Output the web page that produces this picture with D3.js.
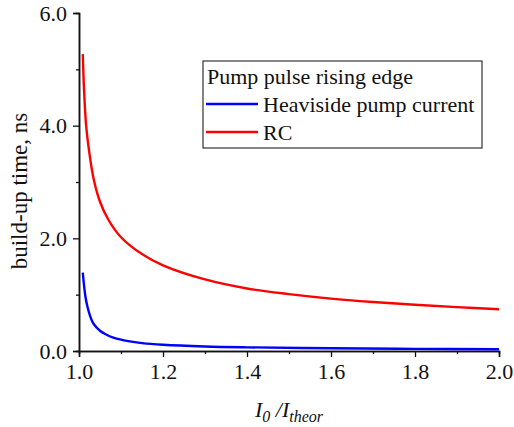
<!DOCTYPE html>
<html>
<head>
<meta charset="utf-8">
<script src="https://cdn.jsdelivr.net/npm/d3@7"></script>
<style>
  body { margin: 0; background: #fff; }
</style>
</head>
<body>
<div id="chart"></div>
<script>
/**
 * CONSTANTS AND GLOBALS
 * */
const width = 514,
  height = 427,
  margin = { top: 13, bottom: 76, left: 79, right: 15 };
const serif = '"Liberation Serif"';

// values
const rcX = [1.009, 1.012, 1.017, 1.025, 1.035, 1.05, 1.07, 1.1, 1.15, 1.2, 1.3, 1.4, 1.5, 1.6, 1.7, 1.8, 1.9, 2.0];
const rcY = [5.27, 4.64, 4.0, 3.5, 3.05, 2.65, 2.33, 2.02, 1.72, 1.52, 1.27, 1.11, 1.01, 0.93, 0.87, 0.82, 0.778, 0.74];
const heavX = [1.009, 1.015, 1.02, 1.03, 1.035, 1.05, 1.063, 1.08, 1.11, 1.15, 1.2, 1.3, 1.4, 1.6, 1.8, 2.0];
const heavY = [1.39, 0.98, 0.79, 0.55, 0.48, 0.36, 0.3, 0.24, 0.185, 0.14, 0.11, 0.08, 0.065, 0.048, 0.038, 0.03];

const xTicks = [1.0, 1.2, 1.4, 1.6, 1.8, 2.0];
const xMinor = [1.1, 1.3, 1.5, 1.7, 1.9];
const yTicks = [0, 2, 4, 6];
const yMinor = [1, 3, 5];

const legendTitle = "Pump pulse rising edge";
const seriesNames = ["Heaviside pump current", "RC"];
const seriesColors = ["#0000ff", "#ff0000"];

/* SCALES */
const x = d3.scaleLinear().domain([1, 2]).range([margin.left, width - margin.right]);
const y = d3.scaleLinear().domain([0, 6]).range([height - margin.bottom, margin.top]);

const svg = d3.select("#chart").append("svg")
  .attr("width", width)
  .attr("height", height);

/* AXES */
svg.append("g")
  .attr("transform", `translate(0,${y(0)})`)
  .call(d3.axisBottom(x).tickValues(xTicks).tickFormat(d3.format(".1f")).tickSizeOuter(0).tickSize(6).tickPadding(6));
svg.append("g")
  .attr("transform", `translate(0,${y(0)})`)
  .call(d3.axisBottom(x).tickValues(xMinor).tickFormat("").tickSizeOuter(0).tickSize(3));

svg.append("g")
  .attr("transform", `translate(${x(1)},0)`)
  .call(d3.axisLeft(y).tickValues(yTicks).tickFormat(d3.format(".1f")).tickSizeOuter(0).tickSize(6).tickPadding(6));
svg.append("g")
  .attr("transform", `translate(${x(1)},0)`)
  .call(d3.axisLeft(y).tickValues(yMinor).tickFormat("").tickSizeOuter(0).tickSize(3));

svg.selectAll("g").attr("font-family", null);
svg.selectAll(".domain").attr("stroke", "#111").attr("stroke-width", 1.5);
svg.selectAll(".tick line").attr("stroke", "#111").attr("stroke-width", 1.3);
svg.selectAll(".tick text").attr("fill", "#111")
  .style("font-size", "22px")
  .style("font-family", serif);

/* LINES */
const line = d3.line()
  .x(d => x(d[0]))
  .y(d => y(d[1]))
  .curve(d3.curveCatmullRom.alpha(0.5));

const series = [
  heavX.map((v, i) => [v, heavY[i]]),
  rcX.map((v, i) => [v, rcY[i]])
];

svg.selectAll("path.series")
  .data(series)
  .join("path")
  .attr("class", "series")
  .attr("d", d => line(d))
  .attr("fill", "none")
  .attr("stroke", (d, i) => seriesColors[i])
  .attr("stroke-width", 2.4);

/* AXIS LABELS */
svg.append("text")
  .attr("transform", "translate(27,191) rotate(-90)")
  .attr("text-anchor", "middle")
  .style("font-size", "23px")
  .style("font-family", serif)
  .attr("fill", "#111")
  .text("build-up time, ns");

const xl = svg.append("text")
  .attr("x", 289)
  .attr("y", 417)
  .attr("text-anchor", "middle")
  .style("font-size", "22px")
  .style("font-family", serif)
  .style("font-style", "italic")
  .attr("fill", "#111");
xl.append("tspan").text("I");
xl.append("tspan").attr("dy", 5).style("font-size", "16px").text("0");
xl.append("tspan").attr("dy", -5).text(" /I");
xl.append("tspan").attr("dy", 5).style("font-size", "16px").text("theor");

/* LEGEND */
const legend = svg.append("g").attr("transform", "translate(203,61)");
legend.append("rect")
  .attr("width", 279)
  .attr("height", 87)
  .attr("fill", "#fff")
  .attr("stroke", "#333")
  .attr("stroke-width", 1.2);
legend.append("text")
  .attr("x", 4)
  .attr("y", 23)
  .style("font-size", "22px")
  .style("font-family", serif)
  .attr("fill", "#111")
  .text(legendTitle);
seriesNames.forEach((name, i) => {
  const ly = 43 + i * 28;
  legend.append("line")
    .attr("x1", 3).attr("x2", 55)
    .attr("y1", ly).attr("y2", ly)
    .attr("stroke", seriesColors[i])
    .attr("stroke-width", 2.4);
  legend.append("text")
    .attr("x", 60)
    .attr("y", ly + 8)
    .style("font-size", "22px")
    .style("font-family", serif)
    .attr("fill", "#111")
    .text(name);
});
</script>
</body>
</html>
